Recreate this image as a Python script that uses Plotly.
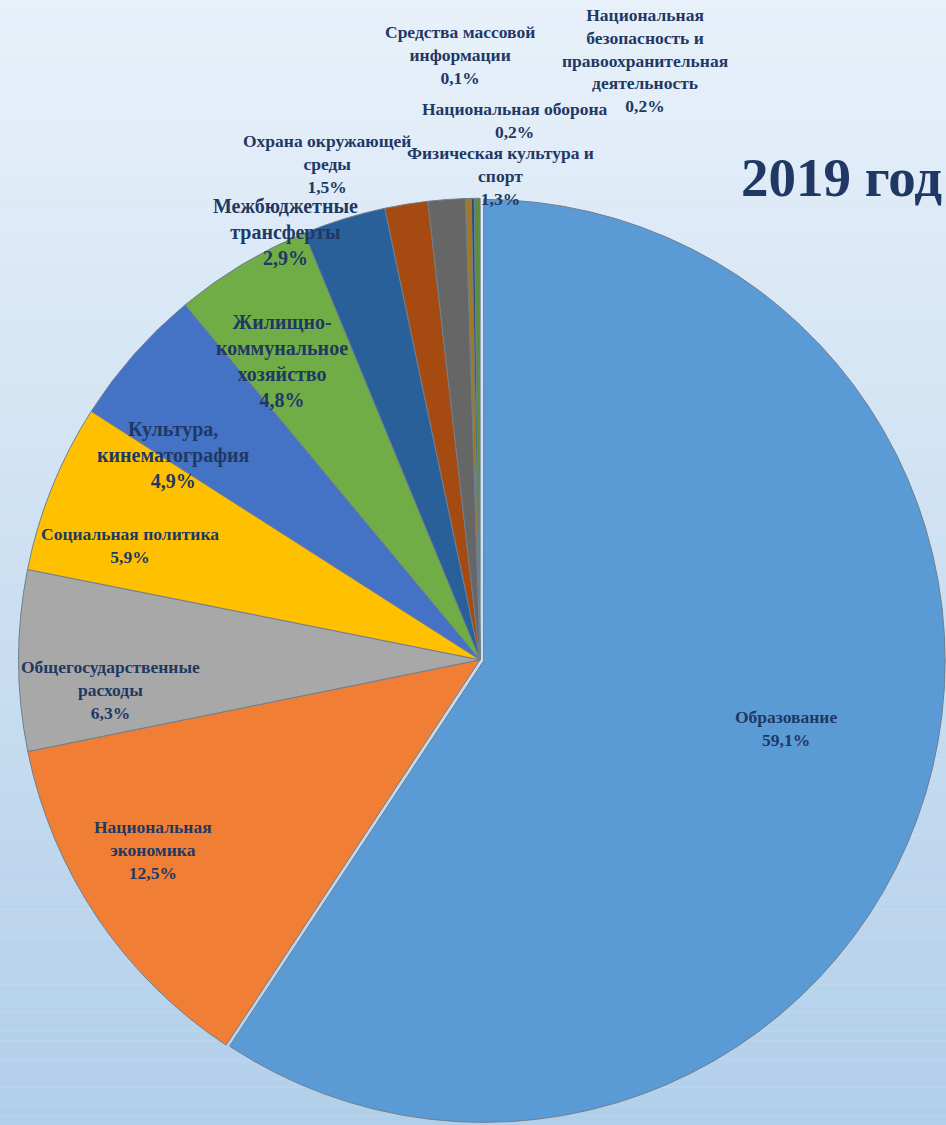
import plotly.graph_objects as go

# Доли расходов бюджета, 2019 год (%), по часовой стрелке от 12 часов
categories = [
    'Образование',
    'Национальная экономика',
    'Общегосударственные расходы',
    'Социальная политика',
    'Культура, кинематография',
    'Жилищно-коммунальное хозяйство',
    'Межбюджетные трансферты',
    'Охрана окружающей среды',
    'Физическая культура и спорт',
    'Национальная оборона',
    'Средства массовой информации',
    'Национальная безопасность и правоохранительная деятельность',
]
shares = [59.1, 12.5, 6.3, 5.9, 4.9, 4.8, 2.9, 1.5, 1.3, 0.2, 0.1, 0.2]

# how each label is broken into lines on the chart
label_lines = [
    ['Образование'],
    ['Национальная', 'экономика'],
    ['Общегосударственные', 'расходы'],
    ['Социальная политика'],
    ['Культура,', 'кинематография'],
    ['Жилищно-', 'коммунальное', 'хозяйство'],
    ['Межбюджетные', 'трансферты'],
    ['Охрана окружающей', 'среды'],
    ['Физическая культура и', 'спорт'],
    ['Национальная оборона'],
    ['Средства массовой', 'информации'],
    ['Национальная', 'безопасность и', 'правоохранительная', 'деятельность'],
]

colors = ['#5B9BD5', '#F07F35', '#A8A8A8', '#FFC000', '#4472C4', '#70AD47',
          '#2A6099', '#A54B12', '#666666', '#A07A20', '#2B4A85', '#5E8C3F']

# label placement (px from top-left of the page) and font size
label_pos = [(786, 728), (153, 850), (110, 690), (130, 545), (173, 455), (282, 361),
             (285, 232), (327, 164), (500, 176), (515, 121), (460, 55), (645, 60)]
label_size = [17.5, 17.5, 17.5, 17.5, 20, 20, 20, 17.5, 17.5, 17.5, 17.5, 17.5]

W, H = 946, 1125
text_color = '#1F3864'

fig = go.Figure()
fig.add_trace(go.Pie(
    labels=categories,
    values=shares,
    sort=False,
    direction='clockwise',
    rotation=0,
    marker=dict(colors=colors, line=dict(color='#6E7F90', width=1)),
    pull=[0.008] + [0] * (len(shares) - 1),
    textinfo='none',
    hovertemplate='%{label}: %{value}%<extra></extra>',
    domain=dict(x=[0.015, 1.0], y=[0.0, 0.827]),
    showlegend=False,
))

annotations = []
for lines, v, (px_, py_), fs in zip(label_lines, shares, label_pos, label_size):
    txt = '<br>'.join(lines + [f'{v:.1f}'.replace('.', ',') + '%'])
    annotations.append(dict(
        x=px_ / W, y=1 - py_ / H, xref='paper', yref='paper',
        text=txt, showarrow=False, xanchor='center', yanchor='middle',
        font=dict(family='Liberation Serif', size=fs, color=text_color, weight='bold'),
    ))
annotations.append(dict(
    x=944 / W, y=1 - 177 / H, xref='paper', yref='paper', text='<b>2019 год</b>',
    showarrow=False, xanchor='right', yanchor='middle',
    font=dict(family='Liberation Serif', size=55, color=text_color),
))

# soft vertical gradient for the background
shapes = []
steps = 120
top, bottom = (232, 241, 250), (178, 207, 234)
for i in range(steps):
    t = i / (steps - 1)
    c = tuple(round(top[k] + (bottom[k] - top[k]) * t) for k in range(3))
    shapes.append(dict(type='rect', xref='paper', yref='paper', layer='below',
                       x0=0, x1=1, y0=1 - (i + 1) / steps, y1=1 - i / steps,
                       line=dict(width=0), fillcolor='rgb(%d,%d,%d)' % c))

fig.update_layout(
    width=W, height=H,
    margin=dict(l=0, r=0, t=0, b=0),
    paper_bgcolor='#D6E6F5',
    plot_bgcolor='rgba(0,0,0,0)',
    annotations=annotations,
    shapes=shapes,
)
fig.write_html('out.html', config={'displayModeBar': False},
               post_script="document.body.style.margin='0';")
